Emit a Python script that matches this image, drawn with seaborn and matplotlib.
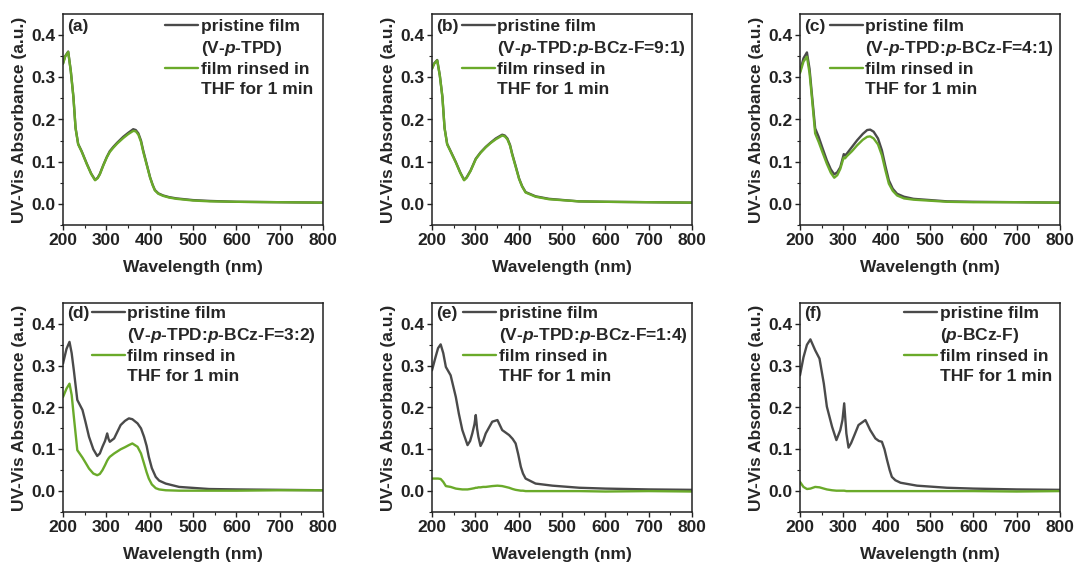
import matplotlib
matplotlib.use("Agg")
import matplotlib.pyplot as plt
import seaborn as sns
import pandas as pd
from matplotlib.lines import Line2D

# ---------------- data ----------------
# (a) V-p-TPD
wl_a = [200, 205, 212, 218, 224, 229, 235, 243, 255, 265, 274, 280, 285, 293, 301,
        308, 316, 325, 339, 350, 362, 368, 374, 380, 385, 393, 401, 407, 412, 420,
        431, 445, 462, 500, 539, 600, 700, 800]
pristine_a = [0.333, 0.350, 0.361, 0.315, 0.254, 0.180, 0.142, 0.125, 0.095, 0.072,
              0.057, 0.062, 0.071, 0.092, 0.111, 0.125, 0.135, 0.145, 0.159, 0.168,
              0.177, 0.175, 0.167, 0.150, 0.127, 0.095, 0.063, 0.045, 0.033, 0.025,
              0.020, 0.016, 0.013, 0.009, 0.007, 0.005, 0.004, 0.003]
rinsed_a = [0.332, 0.349, 0.360, 0.314, 0.253, 0.179, 0.141, 0.124, 0.094, 0.071,
            0.056, 0.061, 0.070, 0.091, 0.110, 0.123, 0.133, 0.143, 0.156, 0.165,
            0.173, 0.172, 0.164, 0.147, 0.124, 0.093, 0.062, 0.044, 0.032, 0.024,
            0.019, 0.015, 0.012, 0.008, 0.006, 0.005, 0.004, 0.003]

# (b) 9:1
wl_b = [200, 205, 212, 218, 224, 229, 235, 243, 255, 265, 274, 280, 289, 301, 312,
        324, 335, 347, 362, 368, 374, 380, 385, 393, 401, 408, 416, 439, 470, 539,
        600, 700, 800]
pristine_b = [0.321, 0.333, 0.341, 0.305, 0.254, 0.180, 0.142, 0.125, 0.099, 0.075,
              0.057, 0.063, 0.079, 0.107, 0.122, 0.135, 0.145, 0.155, 0.164, 0.162,
              0.155, 0.140, 0.119, 0.090, 0.060, 0.042, 0.028, 0.018, 0.012, 0.006,
              0.005, 0.004, 0.003]
rinsed_b = [0.320, 0.332, 0.340, 0.304, 0.253, 0.179, 0.141, 0.124, 0.098, 0.074,
            0.056, 0.062, 0.078, 0.106, 0.121, 0.134, 0.144, 0.153, 0.162, 0.160,
            0.153, 0.138, 0.117, 0.088, 0.059, 0.041, 0.027, 0.017, 0.011, 0.006,
            0.005, 0.004, 0.003]

# (c) 4:1
wl_c = [200, 208, 216, 222, 228, 235, 243, 252, 262, 271, 279, 286, 293, 299, 301,
        304, 308, 320, 332, 345, 355, 362, 370, 380, 389, 397, 405, 414, 424, 440,
        462, 540, 600, 700, 800]
pristine_c = [0.313, 0.345, 0.359, 0.320, 0.254, 0.179, 0.159, 0.132, 0.103, 0.082,
              0.070, 0.075, 0.087, 0.110, 0.118, 0.115, 0.119, 0.135, 0.151, 0.166,
              0.175, 0.176, 0.171, 0.155, 0.127, 0.090, 0.056, 0.036, 0.024, 0.017,
              0.012, 0.006, 0.005, 0.004, 0.003]
rinsed_c = [0.310, 0.337, 0.349, 0.310, 0.246, 0.167, 0.147, 0.122, 0.095, 0.074,
            0.062, 0.068, 0.083, 0.104, 0.110, 0.108, 0.113, 0.125, 0.139, 0.152,
            0.159, 0.160, 0.155, 0.141, 0.115, 0.080, 0.048, 0.031, 0.020, 0.013,
            0.010, 0.005, 0.004, 0.004, 0.003]

# (d) 3:2
wl_d = [200, 208, 215, 220, 225, 233, 245, 252, 260, 270, 279, 285, 291, 297, 302,
        305, 308, 318, 333, 343, 352, 360, 372, 380, 387, 393, 398, 405, 414, 422,
        437, 468, 537, 600, 700, 800]
pristine_d = [0.305, 0.340, 0.357, 0.330, 0.289, 0.218, 0.194, 0.165, 0.130, 0.100,
              0.084, 0.090, 0.106, 0.120, 0.138, 0.125, 0.118, 0.126, 0.158, 0.168,
              0.174, 0.172, 0.162, 0.150, 0.130, 0.108, 0.082, 0.055, 0.034, 0.025,
              0.018, 0.010, 0.005, 0.004, 0.003, 0.002]
rinsed_d = [0.225, 0.245, 0.257, 0.230, 0.178, 0.098, 0.080, 0.068, 0.054, 0.042,
            0.038, 0.041, 0.050, 0.062, 0.073, 0.078, 0.082, 0.090, 0.100, 0.105,
            0.110, 0.114, 0.106, 0.090, 0.066, 0.045, 0.030, 0.016, 0.007, 0.004,
            0.002, 0.001, 0.001, 0.001, 0.002, 0.002]

# (e) 1:4
wl_e = [200, 208, 214, 220, 226, 232, 243, 255, 262, 270, 282, 288, 293, 298, 301,
        304, 307, 312, 318, 324, 339, 351, 362, 370, 378, 386, 393, 399, 405, 410,
        416, 439, 478, 540, 600, 700, 800]
pristine_e = [0.289, 0.320, 0.342, 0.351, 0.330, 0.297, 0.277, 0.225, 0.185, 0.146,
              0.110, 0.120, 0.138, 0.160, 0.182, 0.150, 0.130, 0.108, 0.120, 0.138,
              0.166, 0.170, 0.146, 0.140, 0.134, 0.125, 0.114, 0.088, 0.058, 0.042,
              0.030, 0.018, 0.013, 0.008, 0.006, 0.004, 0.003]
rinsed_e = [0.030, 0.030, 0.030, 0.029, 0.022, 0.012, 0.010, 0.006, 0.005, 0.004,
            0.004, 0.005, 0.006, 0.007, 0.008, 0.008, 0.009, 0.009, 0.010, 0.010,
            0.012, 0.013, 0.012, 0.010, 0.008, 0.005, 0.003, 0.002, 0.001, 0.001,
            0.000, 0.000, 0.000, 0.000, -0.001, 0.000, -0.001]

# (f) p-BCz-F
wl_f = [200, 208, 216, 224, 235, 245, 255, 262, 274, 284, 293, 298, 302, 307, 312,
        318, 324, 335, 351, 362, 374, 382, 389, 395, 401, 407, 412, 420, 432, 470,
        539, 600, 700, 800]
pristine_f = [0.277, 0.320, 0.350, 0.363, 0.337, 0.317, 0.257, 0.202, 0.154, 0.122,
              0.146, 0.170, 0.210, 0.138, 0.104, 0.115, 0.130, 0.158, 0.170, 0.146,
              0.126, 0.120, 0.118, 0.100, 0.074, 0.050, 0.034, 0.026, 0.020, 0.013,
              0.008, 0.006, 0.004, 0.003]
rinsed_f = [0.022, 0.010, 0.005, 0.006, 0.010, 0.009, 0.006, 0.004, 0.002, 0.001,
            0.001, 0.001, 0.001, 0.000, 0.000, 0.000, 0.000, 0.000, 0.000, 0.000,
            0.000, 0.000, 0.000, 0.000, 0.000, 0.000, 0.000, 0.000, 0.000, 0.000,
            0.000, 0.000, -0.001, 0.000]

panel_tags = ["(a)", "(b)", "(c)", "(d)", "(e)", "(f)"]
sample_names = [r"(V-$\mathit{p}$-TPD)",
                r"(V-$\mathit{p}$-TPD:$\mathit{p}$-BCz-F=9:1)",
                r"(V-$\mathit{p}$-TPD:$\mathit{p}$-BCz-F=4:1)",
                r"(V-$\mathit{p}$-TPD:$\mathit{p}$-BCz-F=3:2)",
                r"(V-$\mathit{p}$-TPD:$\mathit{p}$-BCz-F=1:4)",
                r"($\mathit{p}$-BCz-F)"]
series_labels = ["pristine film", "film rinsed in", "THF for 1 min"]
x_ticks = [200, 300, 400, 500, 600, 700, 800]
y_ticks = [0.0, 0.1, 0.2, 0.3, 0.4]

# ---------------- style ----------------
sns.set_theme(style="ticks")
plt.rcParams.update({
    "font.family": ["Liberation Sans", "DejaVu Sans"],
    "font.weight": "bold",
    "axes.labelweight": "bold",
    "font.size": 12.5,
    "mathtext.fontset": "custom",
    "mathtext.rm": "Liberation Sans:bold",
    "mathtext.bf": "Liberation Sans:bold",
    "mathtext.it": "Liberation Sans:italic:bold",
    "axes.edgecolor": "#222222",
    "axes.linewidth": 1.1,
    "xtick.color": "#222222",
    "ytick.color": "#222222",
})

GRAY = "#4a4a4a"
GREEN = "#6aaa2a"

fig = plt.figure(figsize=(10.77, 5.64), dpi=100)

W = 1077.0
H = 564.0
col_left = [63, 432, 800]
row_top = [14, 303]
row_bottom = [225, 512]
ax_w = 260

data = [(wl_a, pristine_a, rinsed_a), (wl_b, pristine_b, rinsed_b),
        (wl_c, pristine_c, rinsed_c), (wl_d, pristine_d, rinsed_d),
        (wl_e, pristine_e, rinsed_e), (wl_f, pristine_f, rinsed_f)]
legend_x = [0.392, 0.114, 0.115, 0.11, 0.119, 0.40]
legend_y = [0.975, 0.975, 0.975, 0.985, 0.985, 0.985]

for i, (wl, pr, rn) in enumerate(data):
    r, c = divmod(i, 3)
    left = col_left[c] / W
    bottom = 1 - row_bottom[r] / H
    height = (row_bottom[r] - row_top[r]) / H
    ax = fig.add_axes([left, bottom, ax_w / W, height])
    df = pd.DataFrame({"wl": wl, "pristine": pr, "rinsed": rn})
    sns.lineplot(data=df, x="wl", y="pristine", ax=ax, color=GRAY, lw=1.7)
    sns.lineplot(data=df, x="wl", y="rinsed", ax=ax, color=GREEN, lw=1.7)
    ax.set_xlim(200, 800)
    ax.set_ylim(-0.05, 0.45)
    ax.set_xticks(x_ticks)
    ax.set_yticks(y_ticks)
    ax.set_yticklabels([f"{v:.1f}" for v in y_ticks])
    ax.set_xticks(range(250, 800, 100), minor=True)
    ax.set_yticks([-0.05, 0.05, 0.15, 0.25, 0.35], minor=True)
    ax.tick_params(axis="both", which="major", length=3.5, width=1, labelsize=12.5, pad=2)
    ax.tick_params(axis="both", which="minor", length=2, width=0.8)
    for lab in ax.get_xticklabels() + ax.get_yticklabels():
        lab.set_fontweight("bold")
    ax.set_xlabel("Wavelength (nm)", fontsize=12.5, fontweight="bold", labelpad=9)
    ax.set_ylabel("UV-Vis Absorbance (a.u.)", fontsize=12.5, fontweight="bold", labelpad=3)
    ax.text(0.015, 0.978 if r == 0 else 0.985, panel_tags[i], transform=ax.transAxes,
            ha="left", va="top", fontsize=12.5, fontweight="bold")
    handles = [Line2D([], [], color=GRAY, lw=1.7), Line2D([], [], lw=0, alpha=0),
               Line2D([], [], color=GREEN, lw=1.7), Line2D([], [], lw=0, alpha=0)]
    labels = [series_labels[0], sample_names[i], series_labels[1], series_labels[2]]
    ax.legend(handles, labels, loc="upper left",
              bbox_to_anchor=(legend_x[i], legend_y[i]),
              frameon=False, borderpad=0, borderaxespad=0, handlelength=1.9,
              handletextpad=0.15, labelspacing=0.25,
              prop={"size": 12.5, "weight": "bold"})

fig.savefig("out.png", dpi=100)
